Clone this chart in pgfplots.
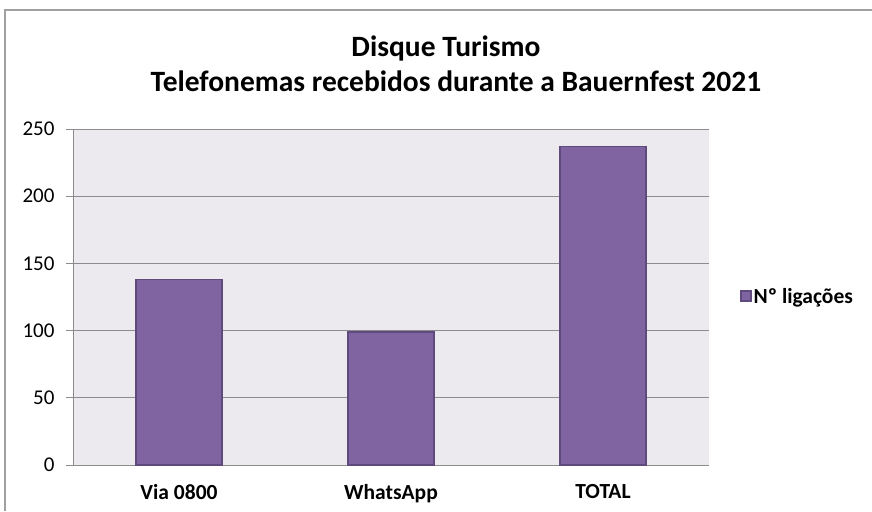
\documentclass[border=0pt]{standalone}
\usepackage{pgfplots}
\pgfplotsset{compat=1.18}
\usepackage{fontspec}
\setmainfont{Carlito}
\definecolor{barfill}{HTML}{8064A2}
\definecolor{barline}{HTML}{5E4A7C}
\definecolor{plotbg}{HTML}{ECE9EF}
\definecolor{gridc}{HTML}{8C8C8C}
\definecolor{framec}{HTML}{A0A0A0}
\begin{document}
\begin{tikzpicture}[x=1pt,y=1pt]
\useasboundingbox (0,0) rectangle (872,511);
\fill[white] (0,0) rectangle (872,511);
\draw[framec,line width=1.2pt] (5,0) -- (5,501) -- (872,501);
\node[font=\bfseries\fontsize{29.5}{34}\selectfont] at (446,463) {Disque Turismo};
\node[font=\bfseries\fontsize{29.5}{34}\selectfont] at (456,430) {Telefonemas recebidos durante a Bauernfest 2021};
\begin{axis}[
  at={(73pt,46pt)}, anchor=south west,
  width=636pt, height=336pt, scale only axis,
  xmin=-0.5, xmax=2.5, ymin=0, ymax=250,
  xtick=data, xticklabels={Via 0800, WhatsApp, TOTAL},
  ytick={0,50,...,250},
  axis background/.style={fill=plotbg},
  axis line style={gridc, line width=0.8pt},
  axis x line*=bottom, axis y line*=left,
  ymajorgrids, grid style={gridc, line width=0.8pt},
  x axis line style={-}, y axis line style={-},
  major x tick style={draw=none},
  ytick style={gridc, line width=0.8pt},
  tick align=outside, major tick length=7pt,
  yticklabel style={font=\fontsize{21}{25}\selectfont, xshift=-8pt},
  xticklabel style={font=\bfseries\fontsize{21.5}{25}\selectfont, yshift=-9pt},
  /pgf/number format/assume math mode=true,
  legend style={at={(1.046,0.5)}, anchor=west, draw=none, fill=none,
    font=\bfseries\fontsize{21.5}{25}\selectfont, inner xsep=2pt},
  legend image code/.code={\draw[#1] (0pt,-4pt) rectangle (10pt,6pt);},
]
\addplot[ybar, bar width=86pt, fill=barfill, draw=barline, line width=1.2pt]
  coordinates {(0,138) (1,99) (2,237)};
\addlegendentry{Nº ligações}
\end{axis}
\end{tikzpicture}
\end{document}
